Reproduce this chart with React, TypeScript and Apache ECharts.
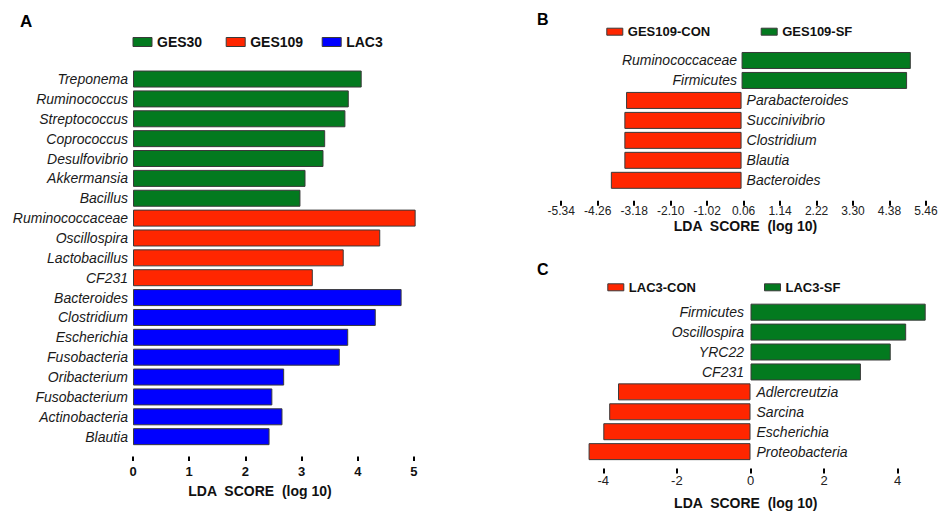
import { useEffect, useRef } from 'react';
import * as echarts from 'echarts';

// ---------- data ----------
const categoriesA = ['Treponema', 'Ruminococcus', 'Streptococcus', 'Coprococcus', 'Desulfovibrio', 'Akkermansia', 'Bacillus',
  'Ruminococcaceae', 'Oscillospira', 'Lactobacillus', 'CF231',
  'Bacteroides', 'Clostridium', 'Escherichia', 'Fusobacteria', 'Oribacterium', 'Fusobacterium', 'Actinobacteria', 'Blautia'];
const ges30 = [4.07, 3.84, 3.78, 3.42, 3.39, 3.07, 2.98];
const ges109 = [5.03, 4.40, 3.75, 3.20];
const lac3 = [4.78, 4.32, 3.83, 3.68, 2.69, 2.48, 2.66, 2.43];
const ticksA = [0, 1, 2, 3, 4, 5];

const categoriesB = ['Ruminococcaceae', 'Firmicutes', 'Parabacteroides', 'Succinivibrio', 'Clostridium', 'Blautia', 'Bacteroides'];
const ges109SF = [5.01, 4.90];
const ges109CON = [-3.42, -3.47, -3.47, -3.47, -3.87];

const categoriesC = ['Firmicutes', 'Oscillospira', 'YRC22', 'CF231', 'Adlercreutzia', 'Sarcina', 'Escherichia', 'Proteobacteria'];
const lac3SF = [4.76, 4.23, 3.81, 3.00];
const lac3CON = [-3.60, -3.84, -4.00, -4.40];
const ticksC = [-4, -2, 0, 2, 4];

const AXIS_TITLE = 'LDA  SCORE  (log 10)';

// ---------- style ----------
const FONT = '"Liberation Sans", Arial, Helvetica, sans-serif';
const GREEN = '#037a1f';
const RED = '#ff2600';
const BLUE = '#0000ff';
const BORDER = '#3a3a3a';
const TXT = '#1a1a1a';

const nulls = (a: number[]) => a.map(() => null);

function buildOption(): any {
  const itemStyleFor = (c: string) => ({ color: c, borderColor: BORDER, borderWidth: 1 });
  const catLabel = (pos: string, dist: number) => ({
    show: true, position: pos, distance: dist, formatter: '{b}',
    fontStyle: 'italic', fontSize: 14, fontFamily: FONT, color: TXT,
  });
  const tick = (len: number, custom?: number[]) => ({
    show: true, length: len, lineStyle: { width: 2, color: '#000' }, ...(custom ? { customValues: custom } : {}),
  });
  const legendItem = (name: string, left: number, top: number, big: boolean) => ({
    data: [name], left, top, padding: 0, itemGap: 0, icon: 'rect',
    itemWidth: big ? 19 : 16, itemHeight: big ? 9 : 7,
    itemStyle: { borderColor: BORDER, borderWidth: 1 },
    textStyle: { fontWeight: 'bold', fontSize: big ? 14 : 13, fontFamily: FONT, color: '#111' },
    selectedMode: false,
  });

  return {
    animation: false,
    backgroundColor: '#ffffff',
    grid: [
      { left: 133, top: 69.1, width: 292.2, height: 377.5, outerBoundsMode: 'none' },
      { left: 561.2, top: 50.5, width: 364.8, height: 139.8, outerBoundsMode: 'none' },
      { left: 584.9, top: 302.2, width: 344.1, height: 159.4, outerBoundsMode: 'none' },
    ],
    legend: [
      legendItem('GES30', 132.5, 35, true),
      legendItem('GES109', 225.7, 35, true),
      legendItem('LAC3', 321.7, 35, true),
      legendItem('GES109-CON', 606.3, 25.2, false),
      legendItem('GES109-SF', 760.7, 25.2, false),
      legendItem('LAC3-CON', 607.3, 280.8, false),
      legendItem('LAC3-SF', 764, 280.8, false),
    ],
    xAxis: [
      {
        type: 'value', gridIndex: 0, min: 0, max: 5.2, offset: 10,
        axisLine: { show: false }, splitLine: { show: false },
        axisTick: tick(4.5, ticksA),
        axisLabel: { customValues: ticksA, margin: 8.5, fontSize: 13, fontWeight: 'bold', fontFamily: FONT, color: '#111' },
      },
      {
        type: 'value', gridIndex: 1, min: -5.34, max: 5.46, interval: 1.08, offset: 10.5,
        axisLine: { show: false }, splitLine: { show: false },
        axisTick: tick(5),
        axisLabel: { margin: 4.5, fontSize: 12, fontFamily: FONT, color: '#222', formatter: (v: number) => v.toFixed(2) },
      },
      {
        type: 'value', gridIndex: 2, min: -4.5, max: 4.85, offset: 7,
        axisLine: { show: false }, splitLine: { show: false },
        axisTick: tick(5, ticksC),
        axisLabel: { customValues: ticksC, margin: 5.5, fontSize: 13, fontFamily: FONT, color: '#222' },
      },
    ],
    yAxis: [
      {
        type: 'category', gridIndex: 0, data: categoriesA, inverse: true,
        axisLine: { show: false }, axisTick: { show: false },
        axisLabel: { margin: 5, fontStyle: 'italic', fontSize: 14, fontFamily: FONT, color: TXT },
      },
      {
        type: 'category', gridIndex: 1, data: categoriesB, inverse: true,
        axisLine: { show: false }, axisTick: { show: false }, axisLabel: { show: false },
      },
      {
        type: 'category', gridIndex: 2, data: categoriesC, inverse: true,
        axisLine: { show: false }, axisTick: { show: false }, axisLabel: { show: false },
      },
    ],
    series: [
      { name: 'GES30', type: 'bar', xAxisIndex: 0, yAxisIndex: 0, stack: 'a', barWidth: 17,
        itemStyle: itemStyleFor(GREEN), data: [...ges30, ...nulls(ges109), ...nulls(lac3)] },
      { name: 'GES109', type: 'bar', xAxisIndex: 0, yAxisIndex: 0, stack: 'a', barWidth: 17,
        itemStyle: itemStyleFor(RED), data: [...nulls(ges30), ...ges109, ...nulls(lac3)] },
      { name: 'LAC3', type: 'bar', xAxisIndex: 0, yAxisIndex: 0, stack: 'a', barWidth: 17,
        itemStyle: itemStyleFor(BLUE), data: [...nulls(ges30), ...nulls(ges109), ...lac3] },

      { name: 'GES109-CON', type: 'bar', xAxisIndex: 1, yAxisIndex: 1, stack: 'b', barWidth: 17,
        itemStyle: itemStyleFor(RED), label: catLabel('right', 5),
        data: [...nulls(ges109SF), ...ges109CON] },
      { name: 'GES109-SF', type: 'bar', xAxisIndex: 1, yAxisIndex: 1, stack: 'b', barWidth: 17,
        itemStyle: itemStyleFor(GREEN), label: catLabel('left', 4.5),
        data: [...ges109SF, ...nulls(ges109CON)] },

      { name: 'LAC3-CON', type: 'bar', xAxisIndex: 2, yAxisIndex: 2, stack: 'c', barWidth: 17,
        itemStyle: itemStyleFor(RED), label: catLabel('right', 6),
        data: [...nulls(lac3SF), ...lac3CON] },
      { name: 'LAC3-SF', type: 'bar', xAxisIndex: 2, yAxisIndex: 2, stack: 'c', barWidth: 17,
        itemStyle: itemStyleFor(GREEN), label: catLabel('left', 6.5),
        data: [...lac3SF, ...nulls(lac3CON)] },
    ],
    graphic: [
      { type: 'text', x: 20, y: 21, style: { text: 'A', align: 'left', verticalAlign: 'middle', fontSize: 17, fontWeight: 'bold', fontFamily: FONT, fill: '#000' } },
      { type: 'text', x: 537, y: 19, style: { text: 'B', align: 'left', verticalAlign: 'middle', fontSize: 16, fontWeight: 'bold', fontFamily: FONT, fill: '#000' } },
      { type: 'text', x: 537, y: 269.5, style: { text: 'C', align: 'left', verticalAlign: 'middle', fontSize: 16, fontWeight: 'bold', fontFamily: FONT, fill: '#000' } },
      { type: 'text', x: 260, y: 490.5, style: { text: AXIS_TITLE, align: 'center', verticalAlign: 'middle', fontSize: 14, fontWeight: 'bold', fontFamily: FONT, fill: '#111' } },
      { type: 'text', x: 745.5, y: 226, style: { text: AXIS_TITLE, align: 'center', verticalAlign: 'middle', fontSize: 14, fontWeight: 'bold', fontFamily: FONT, fill: '#111' } },
      { type: 'text', x: 745.8, y: 503.3, style: { text: AXIS_TITLE, align: 'center', verticalAlign: 'middle', fontSize: 14, fontWeight: 'bold', fontFamily: FONT, fill: '#111' } },
    ],
  };
}

export default function App() {
  const ref = useRef<HTMLDivElement>(null);
  useEffect(() => {
    if (!ref.current) return;
    const chart = echarts.init(ref.current, null, { renderer: 'svg' });
    chart.setOption(buildOption());
    return () => chart.dispose();
  }, []);
  return <div ref={ref} style={{ position: 'absolute', left: 0, top: 0, width: 938, height: 514 }} />;
}
